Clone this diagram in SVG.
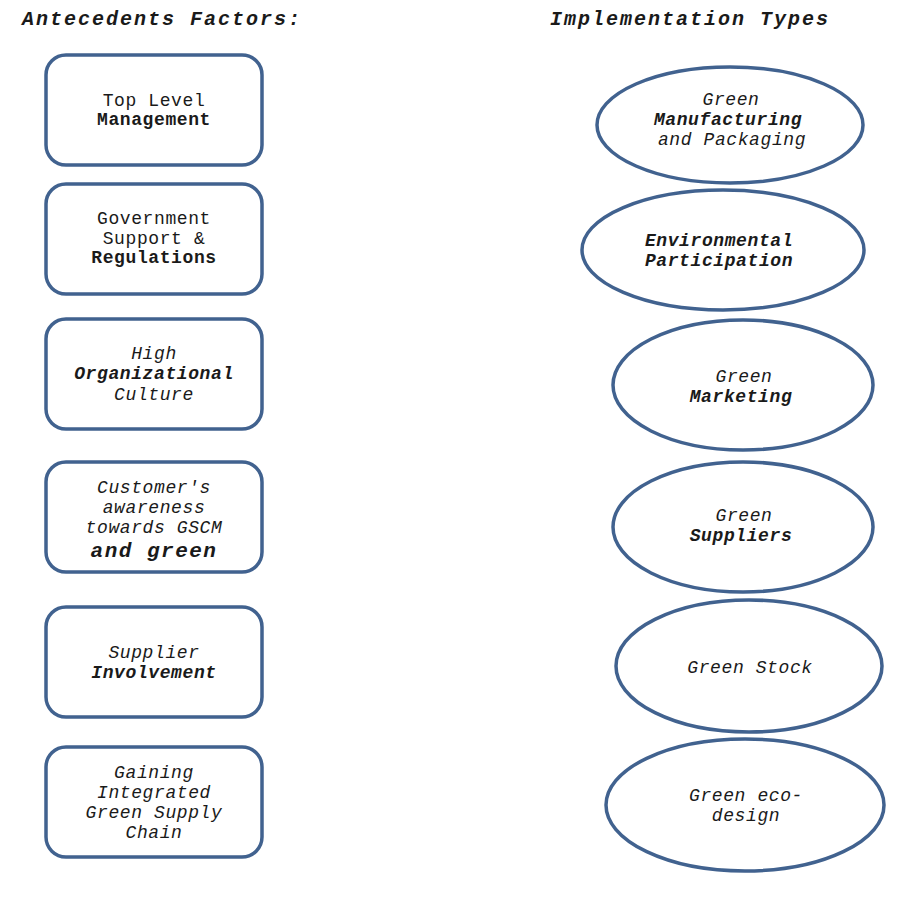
<svg xmlns="http://www.w3.org/2000/svg" width="917" height="897" viewBox="0 0 917 897">
<style>
.bg{fill:#ffffff}
.box{fill:#ffffff;stroke:#41628f;stroke-width:3.5}
text{font-family:"Liberation Mono","Courier New",monospace;font-size:18px;letter-spacing:0.6px;fill:#1a1a1a;text-anchor:middle}
.t{font-size:20px;letter-spacing:2px;font-weight:bold;font-style:italic;text-anchor:start}
.i{font-style:italic}
.b{font-weight:bold}
.bi{font-weight:bold;font-style:italic}
.big{font-size:21px;letter-spacing:1.5px}
</style>
<rect class="bg" x="0" y="0" width="917" height="897"/>
<g id="titles">
<text class="t" x="22" y="25">Antecedents Factors:</text>
<text class="t" x="550" y="25">Implementation Types</text>
</g>
<g id="connectors"></g>
<g id="a1"><rect class="box" x="46" y="55" width="216" height="110" rx="20"/>
<text x="154" y="106">Top Level</text><text class="b" x="154" y="125">Management</text></g>
<g id="a2"><rect class="box" x="46" y="184" width="216" height="110" rx="20"/>
<text x="154" y="224">Government</text><text x="154" y="244">Support &amp;</text><text class="b" x="154" y="263">Regulations</text></g>
<g id="a3"><rect class="box" x="46" y="319" width="216" height="110" rx="20"/>
<text class="i" x="154" y="359">High</text><text class="bi" x="154" y="379">Organizational</text><text class="i" x="154" y="400">Culture</text></g>
<g id="a4"><rect class="box" x="46" y="462" width="216" height="110" rx="20"/>
<text class="i" x="154" y="493">Customer's</text><text class="i" x="154" y="513">awareness</text><text class="i" x="154" y="533">towards GSCM</text><text class="bi big" x="154" y="557">and green</text></g>
<g id="a5"><rect class="box" x="46" y="607" width="216" height="110" rx="20"/>
<text class="i" x="154" y="658">Supplier</text><text class="bi" x="154" y="678">Involvement</text></g>
<g id="a6"><rect class="box" x="46" y="747" width="216" height="110" rx="20"/>
<text class="i" x="154" y="778">Gaining</text><text class="i" x="154" y="798">Integrated</text><text class="i" x="154" y="818">Green Supply</text><text class="i" x="154" y="838">Chain</text></g>
<g id="i1"><ellipse class="box" cx="730" cy="125" rx="133" ry="58"/>
<text class="i" x="731" y="105">Green</text><text class="bi" x="728" y="125">Manufacturing</text><text class="i" x="732" y="145">and Packaging</text></g>
<g id="i2"><ellipse class="box" cx="723" cy="250" rx="141" ry="60"/>
<text class="bi" x="719" y="246">Environmental</text><text class="bi" x="719" y="266">Participation</text></g>
<g id="i3"><ellipse class="box" cx="743" cy="385" rx="130" ry="65"/>
<text class="i" x="744" y="382">Green</text><text class="bi" x="741" y="402">Marketing</text></g>
<g id="i4"><ellipse class="box" cx="743" cy="527" rx="130" ry="65"/>
<text class="i" x="744" y="521">Green</text><text class="bi" x="741" y="541">Suppliers</text></g>
<g id="i5"><ellipse class="box" cx="749" cy="666" rx="133" ry="66"/>
<text class="i" x="750" y="673">Green Stock</text></g>
<g id="i6"><ellipse class="box" cx="745" cy="805" rx="139" ry="66"/>
<text class="i" x="746" y="801">Green eco-</text><text class="i" x="746" y="821">design</text></g>
</svg>
